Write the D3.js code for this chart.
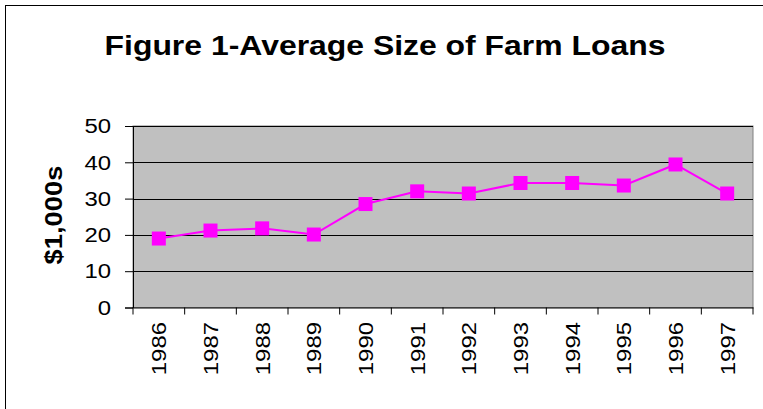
<!DOCTYPE html>
<html>
<head>
<meta charset="utf-8">
<script src="https://cdn.jsdelivr.net/npm/d3@7"></script>
<style>
  body { margin: 0; background: #fff; }
  text { font-family: Arial, "Liberation Sans", sans-serif; }
</style>
</head>
<body>
<svg width="763" height="409"></svg>
<script>
// chart data
var years = ['1986', '1987', '1988', '1989', '1990', '1991', '1992', '1993', '1994', '1995', '1996', '1997'];
var loanSize = [19, 21.2, 21.8, 20.1, 28.5, 32, 31.4, 34.3, 34.3, 33.6, 39.4, 31.4];
var yTicks = [0, 10, 20, 30, 40, 50];

var svg = d3.select('svg');
var plot = {left: 133, right: 753, top: 126, bottom: 307.5};
var stretch = 'scale(1.14,1)'; // the original text is a bit wider than Arial

// outer chart border
svg.append('rect')
	.attr('x', 5.5).attr('y', 5.5)
	.attr('width', 800).attr('height', 500)
	.attr('fill', 'none')
	.attr('stroke', '#000')
	.attr('stroke-width', 1);

svg.append('text')
	.attr('transform', 'translate(385,55) ' + stretch)
	.attr('text-anchor', 'middle')
	.style('font-size', '28px')
	.style('font-weight', 'bold')
	.text('Figure 1-Average Size of Farm Loans');

var x = d3.scaleBand().domain(years).range([plot.left, plot.right]);
var y = d3.scaleLinear().domain([0, 50]).range([plot.bottom, plot.top]);

// plot area
svg.append('rect')
	.attr('x', plot.left).attr('y', plot.top)
	.attr('width', plot.right - plot.left).attr('height', plot.bottom - plot.top)
	.attr('fill', '#C0C0C0')
	.attr('stroke', '#808080');

// gridlines
svg.append('g')
	.selectAll('line')
	.data(yTicks.slice(1))
	.enter()
	.append('line')
	.attr('x1', plot.left).attr('x2', plot.right)
	.attr('y1', function(d) {return Math.round(y(d)) + 0.5;})
	.attr('y2', function(d) {return Math.round(y(d)) + 0.5;})
	.attr('stroke', '#000');

// y axis
var yAxis = svg.append('g')
	.attr('transform', 'translate(' + plot.left + ',0)')
	.call(d3.axisLeft(y).tickValues(yTicks).tickSize(8));
yAxis.select('.domain').attr('stroke', '#000');
yAxis.selectAll('text')
	.style('font-size', '21px')
	.attr('fill', '#000')
	.attr('x', 0)
	.attr('transform', 'translate(-22,0) ' + stretch);

// x axis
var xAxis = svg.append('g')
	.attr('transform', 'translate(0,' + plot.bottom + ')')
	.call(d3.axisBottom(x).tickSize(0));
xAxis.select('.domain').attr('stroke', '#000');
xAxis.selectAll('text')
	.style('font-size', '21px')
	.attr('fill', '#000')
	.attr('transform', 'rotate(-90) translate(-14.5,0) ' + stretch)
	.attr('text-anchor', 'end')
	.attr('x', 0)
	.attr('y', 0)
	.attr('dy', '0.35em');

// tick marks between categories
svg.append('g')
	.selectAll('line')
	.data(d3.range(years.length + 1))
	.enter()
	.append('line')
	.attr('x1', function(i) {return plot.left + i * x.step();})
	.attr('x2', function(i) {return plot.left + i * x.step();})
	.attr('y1', plot.bottom).attr('y2', plot.bottom + 7)
	.attr('stroke', '#000');

svg.append('text')
	.attr('transform', 'translate(62,215) rotate(-90) ' + stretch)
	.attr('text-anchor', 'middle')
	.style('font-size', '24px')
	.style('font-weight', 'bold')
	.text('$1,000s');

function cx(d, i) {return x(years[i]) + x.bandwidth() / 2;}

var line = d3.line()
	.x(function(d, i) {return cx(d, i);})
	.y(function(d) {return y(d);});

svg.append('path')
	.datum(loanSize)
	.attr('d', line)
	.attr('fill', 'none')
	.attr('stroke', '#FF00FF')
	.attr('stroke-width', 2);

var m = 14;
svg.append('g')
	.selectAll('rect')
	.data(loanSize)
	.enter()
	.append('rect')
	.attr('x', function(d, i) {return cx(d, i) - m / 2;})
	.attr('y', function(d) {return y(d) - m / 2;})
	.attr('width', m).attr('height', m)
	.attr('fill', '#FF00FF');
</script>
</body>
</html>
